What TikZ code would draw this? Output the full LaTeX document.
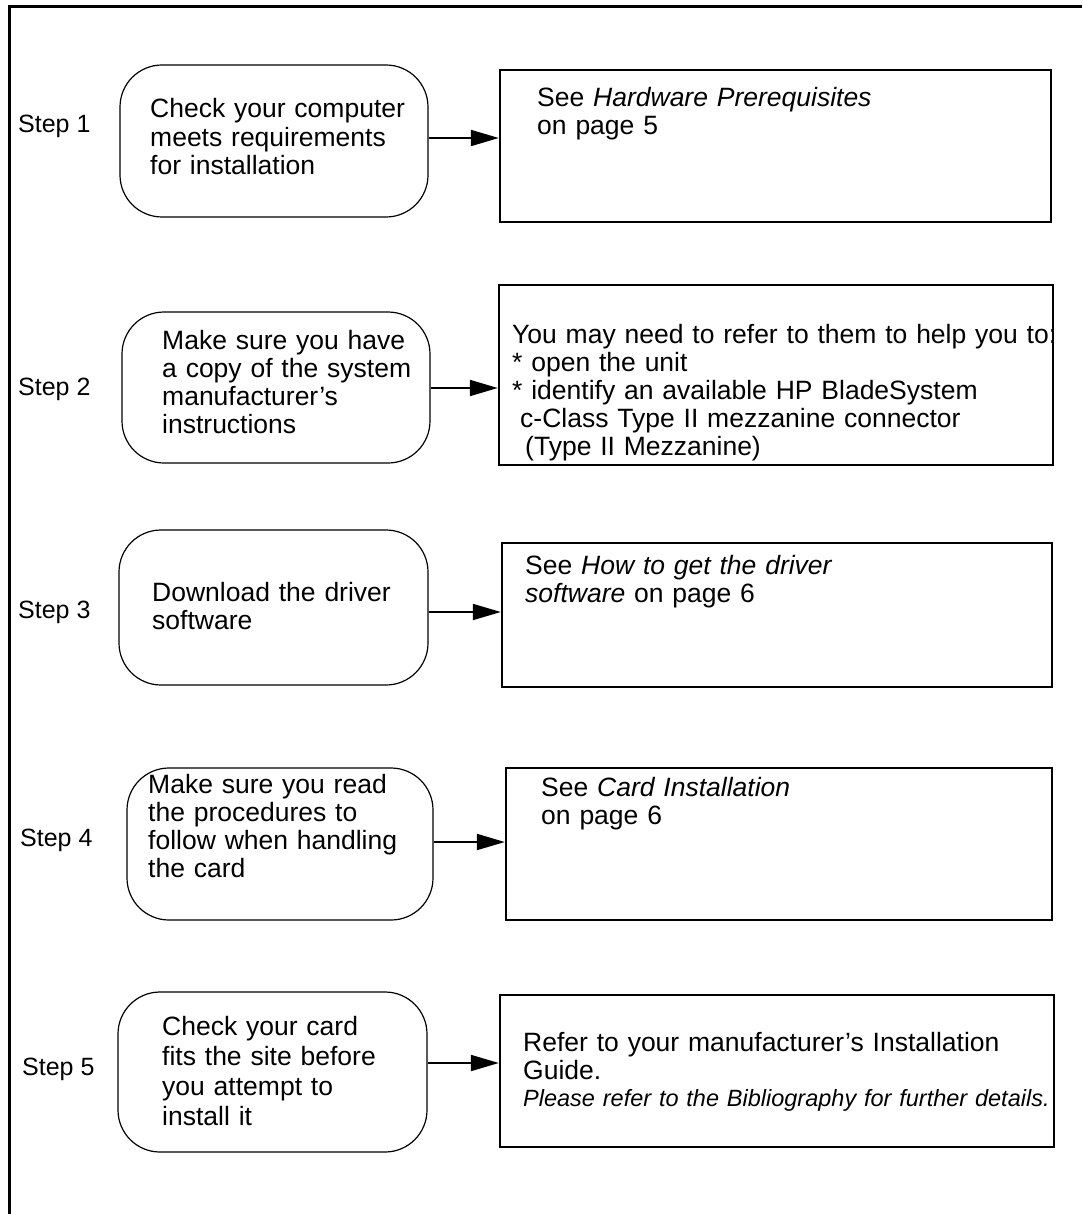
\documentclass[tikz,border=0pt]{standalone}
\usepackage{fontspec}
\setmainfont{Liberation Sans}
\usetikzlibrary{arrows.meta}
\begin{document}
\begin{tikzpicture}[x=1pt,y=-1pt,
  rbox/.style={draw, line width=1.2pt, rounded corners=42pt, inner sep=0pt},
  sbox/.style={draw, line width=2.4pt, inner sep=0pt},
  txt/.style={anchor=base west, inner sep=0pt, text width=580pt, align=left,
    font=\fontsize{26.5}{28}\selectfont},
  steplbl/.style={anchor=base west, inner sep=0pt, font=\fontsize{25}{28}\selectfont},
  arr/.style={line width=2pt, -{Triangle[length=28pt,width=16pt]}}]
\useasboundingbox (0,0) rectangle (1082,1214);
% frame
\draw[line width=3pt] (9.5,1214) -- (9.5,6.5) -- (1082,6.5);

% step labels
\node[steplbl] (s1) at (18,133) {Step 1};
\node[steplbl] (s2) at (18,395) {Step 2};
\node[steplbl] (s3) at (18,618) {Step 3};
\node[steplbl] (s4) at (20,846) {Step 4};
\node[steplbl] (s5) at (22,1075) {Step 5};

% rounded boxes
\node[rbox, minimum width=308pt, minimum height=152pt] (r1) at (274,141) {};
\node[rbox, minimum width=308pt, minimum height=151pt] (r2) at (276,387.5) {};
\node[rbox, minimum width=309pt, minimum height=155pt] (r3) at (273.5,607.5) {};
\node[rbox, minimum width=306pt, minimum height=152pt] (r4) at (280,844) {};
\node[rbox, minimum width=309pt, minimum height=160pt] (r5) at (272.5,1072) {};

% right boxes
\node[sbox, minimum width=551pt, minimum height=152pt] (b1) at (775.5,146) {};
\node[sbox, minimum width=554pt, minimum height=180pt] (b2) at (776,375) {};
\node[sbox, minimum width=550pt, minimum height=144pt] (b3) at (777,615) {};
\node[sbox, minimum width=546pt, minimum height=152pt] (b4) at (779,844) {};
\node[sbox, minimum width=554pt, minimum height=152pt] (b5) at (777,1071) {};

% texts of rounded boxes
\node[txt, font=\fontsize{26.5}{28.5}\selectfont] (t1) at (150,118) {Check your computer\\meets requirements\\for installation};
\node[txt] (t2) at (162,349.5) {Make sure you have\\a copy of the system\\manufacturer’s\\instructions};
\node[txt] (t3) at (152,601.5) {Download the driver\\software};
\node[txt] (t4) at (148,793) {Make sure you read\\the procedures to\\follow when handling\\the card};
\node[txt, font=\fontsize{26.5}{30}\selectfont] (t5) at (162,1035) {Check your card\\fits the site before\\you attempt to\\install it};

% texts of right boxes
\node[txt] (u1) at (537,107) {See \textit{Hardware Prerequisites}\\on page 5};
\node[txt] (u2) at (512,343.5) {You may need to refer to them to help you to:\\{}* open the unit\\{}* identify an available HP BladeSystem\\\hspace*{8pt}c-Class Type II mezzanine connector\\\hspace*{13pt}(Type II Mezzanine)};
\node[txt] (u3) at (525,574) {See \textit{How to get the driver}\\\textit{software} on page 6};
\node[txt] (u4) at (541,796) {See \textit{Card Installation}\\on page 6};
\node[txt] (u5) at (523,1051) {Refer to your manufacturer’s Installation\\Guide.};
\node[txt, font=\fontsize{23.5}{28}\selectfont\itshape] (u6) at (523,1106) {Please refer to the Bibliography for further details.};

% arrows
\draw[arr] (r1.east |- 0,138) -- (b1.west |- 0,138);
\draw[arr] (r2.east |- 0,388) -- (b2.west |- 0,388);
\draw[arr] (r3.east |- 0,612) -- (b3.west |- 0,612);
\draw[arr] (r4.east |- 0,842) -- (b4.west |- 0,842);
\draw[arr] (r5.east |- 0,1063) -- (b5.west |- 0,1063);
\end{tikzpicture}
\end{document}
